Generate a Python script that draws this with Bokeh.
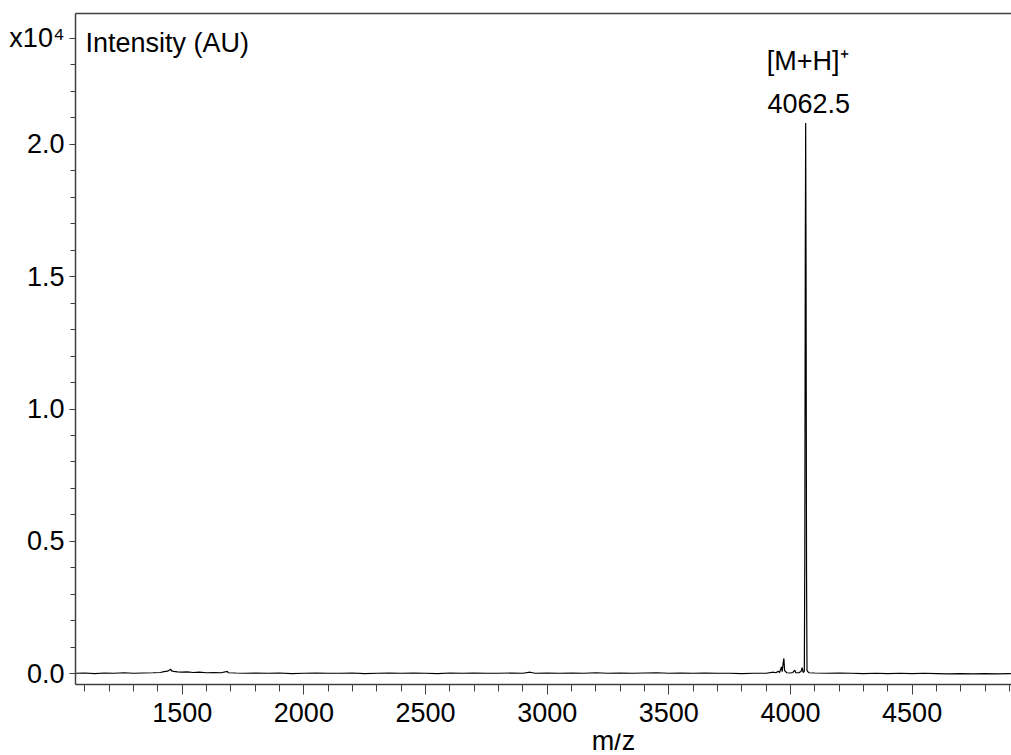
from bokeh.plotting import figure
from bokeh.models import LinearAxis, FixedTicker, Label, PrintfTickFormatter, Range1d
from bokeh.layouts import column
from bokeh.embed import file_html
from bokeh.resources import INLINE

# ---- data (m/z, intensity in units of 1e4) ----
mz = [1062, 1100, 1140, 1180, 1220, 1260, 1300, 1340, 1380, 1410, 1425, 1440, 1448, 1452,
      1456, 1465, 1480, 1500, 1520, 1545, 1570, 1600, 1630, 1660, 1685, 1690, 1720, 1760,
      1800, 1850, 1900, 1950, 2000, 2050, 2100, 2150, 2200, 2250, 2300, 2350, 2400, 2450,
      2500, 2550, 2600, 2650, 2700, 2750, 2800, 2850, 2900, 2930, 2950, 3000, 3050, 3100,
      3150, 3200, 3250, 3300, 3350, 3400, 3450, 3500, 3550, 3600, 3650, 3700, 3750, 3800,
      3850, 3900, 3930, 3940, 3950, 3955, 3963, 3966, 3970, 3973, 3976, 3985, 4000, 4010,
      4018, 4022, 4035, 4044, 4048, 4052, 4057, 4059, 4061, 4062.5, 4064, 4066, 4068, 4075,
      4100, 4150, 4200, 4250, 4300, 4350, 4400, 4450, 4500, 4550, 4600, 4650, 4700, 4750,
      4800, 4850, 4900, 4908]
intensity = [0.002, 0.003, 0.001, 0.003, 0.002, 0.004, 0.002, 0.003, 0.004, 0.005, 0.008, 0.010, 0.014, 0.018,
             0.011, 0.009, 0.007, 0.006, 0.007, 0.005, 0.006, 0.004, 0.005, 0.004, 0.009, 0.004, 0.003, 0.002,
             0.003, 0.002, 0.003, 0.001, 0.002, 0.003, 0.002, 0.002, 0.003, 0.001, 0.002, 0.003, 0.002, 0.003,
             0.002, 0.001, 0.003, 0.002, 0.003, 0.002, 0.002, 0.003, 0.002, 0.006, 0.002, 0.003, 0.002, 0.003,
             0.002, 0.004, 0.002, 0.003, 0.002, 0.003, 0.004, 0.002, 0.003, 0.002, 0.003, 0.002, 0.002, 0.001,
             0.002, 0.002, 0.006, 0.004, 0.010, 0.005, 0.026, 0.008, 0.040, 0.058, 0.012, 0.004, 0.003, 0.005,
             0.014, 0.004, 0.004, 0.010, 0.023, 0.005, 0.010, 0.45, 1.60, 2.08, 1.55, 0.40, 0.012, 0.004,
             0.003, 0.002, 0.003, 0.002, 0.001, 0.002, 0.001, 0.002, 0.001, 0.002, 0.001, 0.000, 0.001, 0.000,
             0.001, 0.000, 0.001, 0.000]

x_major = [1500, 2000, 2500, 3000, 3500, 4000, 4500]
x_minor = list(range(1100, 5000, 100))
y_major = [0.0, 0.5, 1.0, 1.5, 2.0, 2.4]
y_minor = [round(0.1 * i, 1) for i in range(0, 25)]
y_overrides = {2.4: "x10\u2074"}

peak_mz = 4062.5
peak_title = "[M+H]\u207a"
peak_label = "4062.5"
y_title = "Intensity (AU)"
x_title = "m/z"
x_title_pos = 3272.7

X0, X1 = 1061.4, 4908.5
Y0, Y1 = -0.0404, 2.4936

FONT = "Liberation Sans"
FS = "27px"
AX = "#404040"

xr = Range1d(X0, X1)

p = figure(width=1011, height=733, output_backend="svg", toolbar_location=None,
           x_range=xr, y_range=Range1d(Y0, Y1),
           min_border_left=75, min_border_right=0, min_border_top=13, min_border_bottom=49,
           x_axis_location=None, y_axis_location=None)
p.outline_line_color = None
p.xgrid.visible = False
p.ygrid.visible = False
p.background_fill_color = "white"
p.border_fill_color = "white"

xaxis = LinearAxis(ticker=FixedTicker(ticks=x_major, minor_ticks=x_minor))
xaxis.axis_line_color = AX
xaxis.axis_line_width = 1.5
xaxis.major_tick_line_color = AX
xaxis.minor_tick_line_color = AX
xaxis.major_tick_out = 10
xaxis.major_tick_in = 0
xaxis.minor_tick_out = 7
xaxis.minor_tick_in = 0
xaxis.major_label_standoff = 8
xaxis.major_label_text_font = FONT
xaxis.major_label_text_font_size = FS
xaxis.major_label_text_color = "black"
p.add_layout(xaxis, "below")

yaxis = LinearAxis(ticker=FixedTicker(ticks=y_major, minor_ticks=y_minor),
                   formatter=PrintfTickFormatter(format="%.1f"))
yaxis.major_label_overrides = y_overrides
yaxis.axis_line_color = AX
yaxis.axis_line_width = 1.5
yaxis.major_tick_line_color = AX
yaxis.minor_tick_line_color = AX
yaxis.major_tick_out = 6
yaxis.major_tick_in = 0
yaxis.minor_tick_out = 5
yaxis.minor_tick_in = 0
yaxis.major_label_standoff = 5
yaxis.major_label_text_font = FONT
yaxis.major_label_text_font_size = FS
yaxis.major_label_text_color = "black"
p.add_layout(yaxis, "left")

top = LinearAxis(ticker=FixedTicker(ticks=[]))
top.axis_line_color = AX
top.axis_line_width = 1.5
top.major_tick_out = 0
top.major_tick_in = 0
top.minor_tick_out = 0
top.minor_tick_in = 0
top.major_label_standoff = 0
top.major_label_text_font_size = "0px"
p.add_layout(top, "above")

p.line(mz, intensity, line_color="black", line_width=1.2)

p.add_layout(Label(x=X0, y=2.382, x_offset=10, text=y_title, text_font=FONT,
                   text_font_size=FS, text_color="black", text_baseline="alphabetic"))
p.add_layout(Label(x=peak_mz, y=2.313, x_offset=2, text=peak_title, text_font=FONT,
                   text_font_size=FS, text_color="black", text_align="center",
                   text_baseline="alphabetic"))
p.add_layout(Label(x=peak_mz, y=2.153, x_offset=3, text=peak_label, text_font=FONT,
                   text_font_size=FS, text_color="black", text_align="center",
                   text_baseline="alphabetic"))

# strip below the plot carrying the x-axis title
q = figure(width=1011, height=22, output_backend="svg", toolbar_location=None,
           x_range=xr, y_range=Range1d(0, 1),
           min_border_left=75, min_border_right=0, min_border_top=0, min_border_bottom=0,
           x_axis_location=None, y_axis_location=None)
q.outline_line_color = None
q.xgrid.visible = False
q.ygrid.visible = False
q.add_layout(Label(x=x_title_pos, y=0.64, text=x_title, text_font=FONT,
                   text_font_size=FS, text_color="black", text_align="center",
                   text_baseline="alphabetic"))

layout = column(p, q, spacing=0)
open("out.html", "w").write(file_html(layout, INLINE))
